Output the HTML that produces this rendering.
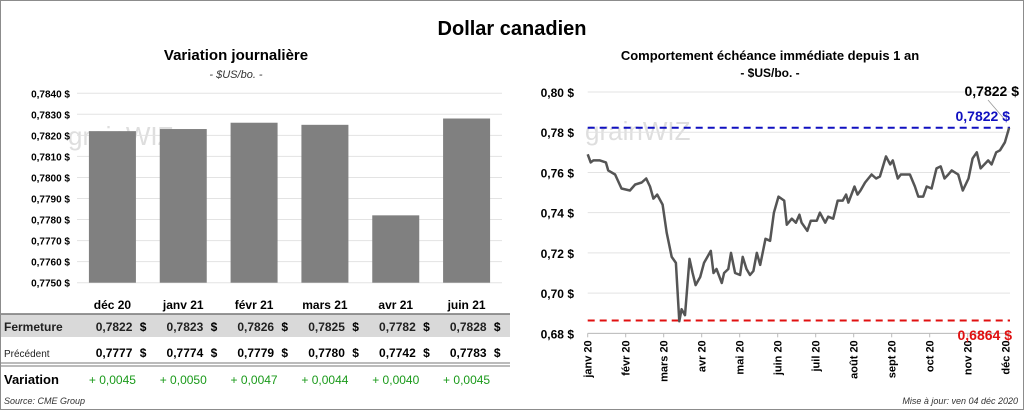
<!DOCTYPE html>
<html><head><meta charset="utf-8">
<style>
body{margin:0;background:#fff;}
#root{position:relative;width:1024px;height:410px;overflow:hidden;font-family:"Liberation Sans",sans-serif;}
svg text{font-family:"Liberation Sans",sans-serif;}
</style></head>
<body>
<div id="root">
<svg id="svg" width="1024" height="410" xmlns="http://www.w3.org/2000/svg">
<rect x="0.5" y="0.5" width="1023" height="409" fill="#fff" stroke="#8c8c8c"/>
<text x="512" y="35" text-anchor="middle" font-size="20" font-weight="bold">Dollar canadien</text>
<text x="236" y="60" text-anchor="middle" font-size="15" font-weight="bold">Variation  journalière</text>
<text x="236" y="78" text-anchor="middle" font-size="11" font-style="italic" fill="#333">- $US/bo. -</text>
<text x="770" y="60" text-anchor="middle" font-size="13" font-weight="bold">Comportement échéance immédiate depuis 1 an</text>
<text x="770" y="77" text-anchor="middle" font-size="12" font-weight="bold">- $US/bo. -</text>
<g id="left"></g>
<g id="table"></g>
<g id="right"></g>
<text x="4" y="404" font-size="9" font-style="italic" fill="#333">Source: CME Group</text>
<text x="1018" y="404" text-anchor="end" font-size="9" font-style="italic" fill="#333">Mise à jour: ven 04 déc 2020</text>
</svg>
</div>
<script>
const barCats=["déc 20","janv 21","févr 21","mars 21","avr 21","juin 21"];
const closeVals=[0.7822,0.7823,0.7826,0.7825,0.7782,0.7828];
const prevVals=[0.7777,0.7774,0.7779,0.7780,0.7742,0.7783];
const changeVals=[0.0045,0.0050,0.0047,0.0044,0.0040,0.0045];
const leftTicks=[0.7750,0.7760,0.7770,0.7780,0.7790,0.7800,0.7810,0.7820,0.7830,0.7840];

const monthT=[0,0.08,0.15,0.32,0.48,0.54,0.72,0.89,1.11,1.25,1.42,1.54,1.64,1.73,1.83,1.97,2.08,2.21,2.32,2.41,2.47,2.56,2.68,2.76,2.84,2.96,3.06,3.24,3.31,3.39,3.53,3.59,3.70,3.77,3.88,4.01,4.08,4.18,4.27,4.36,4.45,4.54,4.68,4.80,4.90,5.02,5.17,5.24,5.37,5.48,5.57,5.63,5.78,5.87,6.03,6.11,6.25,6.33,6.46,6.58,6.71,6.80,6.86,7.02,7.10,7.18,7.30,7.47,7.59,7.69,7.85,7.96,8.03,8.16,8.24,8.48,8.61,8.70,8.83,8.92,9.05,9.18,9.29,9.39,9.49,9.58,9.75,9.87,10.02,10.13,10.24,10.34,10.54,10.63,10.75,10.85,10.98,11.09];
const priceVals=[0.769,0.765,0.766,0.766,0.765,0.761,0.759,0.752,0.751,0.754,0.755,0.757,0.753,0.747,0.749,0.744,0.730,0.718,0.715,0.686,0.692,0.689,0.717,0.710,0.704,0.708,0.715,0.721,0.710,0.712,0.705,0.710,0.712,0.720,0.710,0.709,0.718,0.712,0.709,0.711,0.720,0.714,0.727,0.726,0.740,0.748,0.746,0.734,0.737,0.735,0.739,0.735,0.731,0.736,0.736,0.740,0.735,0.738,0.737,0.746,0.746,0.749,0.745,0.753,0.749,0.751,0.755,0.759,0.757,0.758,0.768,0.764,0.766,0.757,0.759,0.759,0.753,0.748,0.748,0.753,0.752,0.762,0.763,0.757,0.759,0.761,0.759,0.751,0.757,0.767,0.770,0.762,0.766,0.764,0.770,0.771,0.775,0.7822];
const monthLabels=["janv 20","févr 20","mars 20","avr 20","mai 20","juin 20","juil 20","août 20","sept 20","oct 20","nov 20","déc 20"];
const rightTicks=[0.68,0.70,0.72,0.74,0.76,0.78,0.80];
const highVal=0.7822, lowVal=0.6864, lastVal=0.7822;

const NS="http://www.w3.org/2000/svg";
function mk(tag,attrs,parent,txt){const e=document.createElementNS(NS,tag);for(const k in attrs)e.setAttribute(k,attrs[k]);if(txt!==undefined)e.textContent=txt;parent.appendChild(e);return e;}
const fmt=(v,d)=>v.toFixed(d).replace('.',',');

// left bar chart
const L=document.getElementById('left');
const lx0=77,lx1=502,ly=v=>282.7-(v-0.7750)*21050;
const band=(lx1-lx0)/barCats.length, bx=i=>lx0+band*(i+0.5);
mk('text',{x:68,y:145,'font-size':26,fill:'#dedede'},L,'grainWIZ');
leftTicks.forEach(t=>{
  const g=mk('line',{x1:lx0,x2:lx1,y1:ly(t),y2:ly(t),stroke:'#e3e3e3'},L);
  
  
  const tx=mk('text',{x:70,y:ly(t)+4,'text-anchor':'end','font-size':10,'font-weight':'bold'},L,fmt(t,4)+' $');
  
  
});
closeVals.forEach((v,i)=>{
  const r=mk('rect',{x:bx(i)-23.5,y:ly(v),width:47,height:ly(0.7750)-ly(v),fill:'#808080'},L);
  
  
});
// table
const T=document.getElementById('table');
mk('rect',{x:1,y:314,width:509,height:23,fill:'#d9d9d9'},T);
mk('line',{x1:1,x2:510,y1:314,y2:314,stroke:'#777','stroke-width':1.5},T);
mk('line',{x1:1,x2:510,y1:363,y2:363,stroke:'#777'},T);
mk('line',{x1:1,x2:510,y1:366,y2:366,stroke:'#777'},T);
barCats.forEach((c,i)=>{
  const h=mk('text',{x:bx(i),y:309,'text-anchor':'middle','font-size':12,'font-weight':'bold'},T,c);
  
  
  const a=mk('text',{x:bx(i)+20,y:331,'text-anchor':'end','font-size':12,'font-weight':'bold',fill:'#222'},T,fmt(closeVals[i],4));
  
  
  mk('text',{x:bx(i)+34,y:331,'text-anchor':'end','font-size':12,'font-weight':'bold'},T,'$');
  const b=mk('text',{x:bx(i)+20,y:357,'text-anchor':'end','font-size':12,'font-weight':'bold'},T,fmt(prevVals[i],4));
  
  
  mk('text',{x:bx(i)+34,y:357,'text-anchor':'end','font-size':12,'font-weight':'bold'},T,'$');
  const d=changeVals[i];
  const v=mk('text',{x:bx(i),y:384,'text-anchor':'middle','font-size':12,fill:'#1a9a1a'},T,(d>=0?'+ ':'- ')+fmt(Math.abs(d),4));
  
  
});
mk('text',{x:4,y:331,'font-size':12,'font-weight':'bold',fill:'#222'},T,'Fermeture');
mk('text',{x:4,y:357,'font-size':10,fill:'#222'},T,'Précédent');
mk('text',{x:4,y:384,'font-size':13,'font-weight':'bold'},T,'Variation');

// right line chart
const R=document.getElementById('right');
const rx0=587.7,rdx=38.0,rx=t=>rx0+t*rdx,ry=v=>92-(v-0.80)*2011;
mk('text',{x:585,y:140,'font-size':26,fill:'#dedede'},R,'grainWIZ');
rightTicks.forEach(t=>{
  const g=mk('line',{x1:rx0,x2:1010,y1:ry(t),y2:ry(t),stroke:'#e3e3e3'},R);
  
  
  const tx=mk('text',{x:574,y:ry(t)+5,'text-anchor':'end','font-size':12,'font-weight':'bold'},R,fmt(t,2)+' $');
  
  
});
mk('line',{x1:rx0,x2:1010,y1:ry(0.68),y2:ry(0.68),stroke:'#bbb'},R);
monthLabels.forEach((m,i)=>{
  mk('line',{x1:rx(i),x2:rx(i),y1:ry(0.68),y2:ry(0.68)+4,stroke:'#bbb'},R);
  const tx=mk('text',{transform:`translate(${rx(i)+4},${ry(0.68)+7}) rotate(-90)`,'text-anchor':'end','font-size':11,'font-weight':'bold'},R,m);
  
  
});
const hl=mk('line',{x1:rx0,x2:1010,y1:ry(highVal),y2:ry(highVal),stroke:'#1010c0','stroke-width':2,'stroke-dasharray':'7,5'},R);


const ll=mk('line',{x1:rx0,x2:1010,y1:ry(lowVal),y2:ry(lowVal),stroke:'#e01010','stroke-width':2,'stroke-dasharray':'7,5'},R);


const pts=monthT.map((t,i)=>rx(t).toFixed(1)+','+ry(priceVals[i]).toFixed(1)).join(' ');
const pl=mk('polyline',{points:pts,fill:'none',stroke:'#555','stroke-width':2.5,'stroke-linejoin':'round'},R);


mk('line',{x1:988,y1:100,x2:1006,y2:121,stroke:'#999','stroke-width':0.8},R);
const t1=mk('text',{x:1019,y:96,'text-anchor':'end','font-size':14,'font-weight':'bold'},R,fmt(lastVal,4)+' $');


const t2=mk('text',{x:1010,y:121,'text-anchor':'end','font-size':14,'font-weight':'bold',fill:'#1010c0'},R,fmt(highVal,4)+' $');


const t3=mk('text',{x:1012,y:340,'text-anchor':'end','font-size':14,'font-weight':'bold',fill:'#e01010'},R,fmt(lowVal,4)+' $');


</script>
</body></html>
